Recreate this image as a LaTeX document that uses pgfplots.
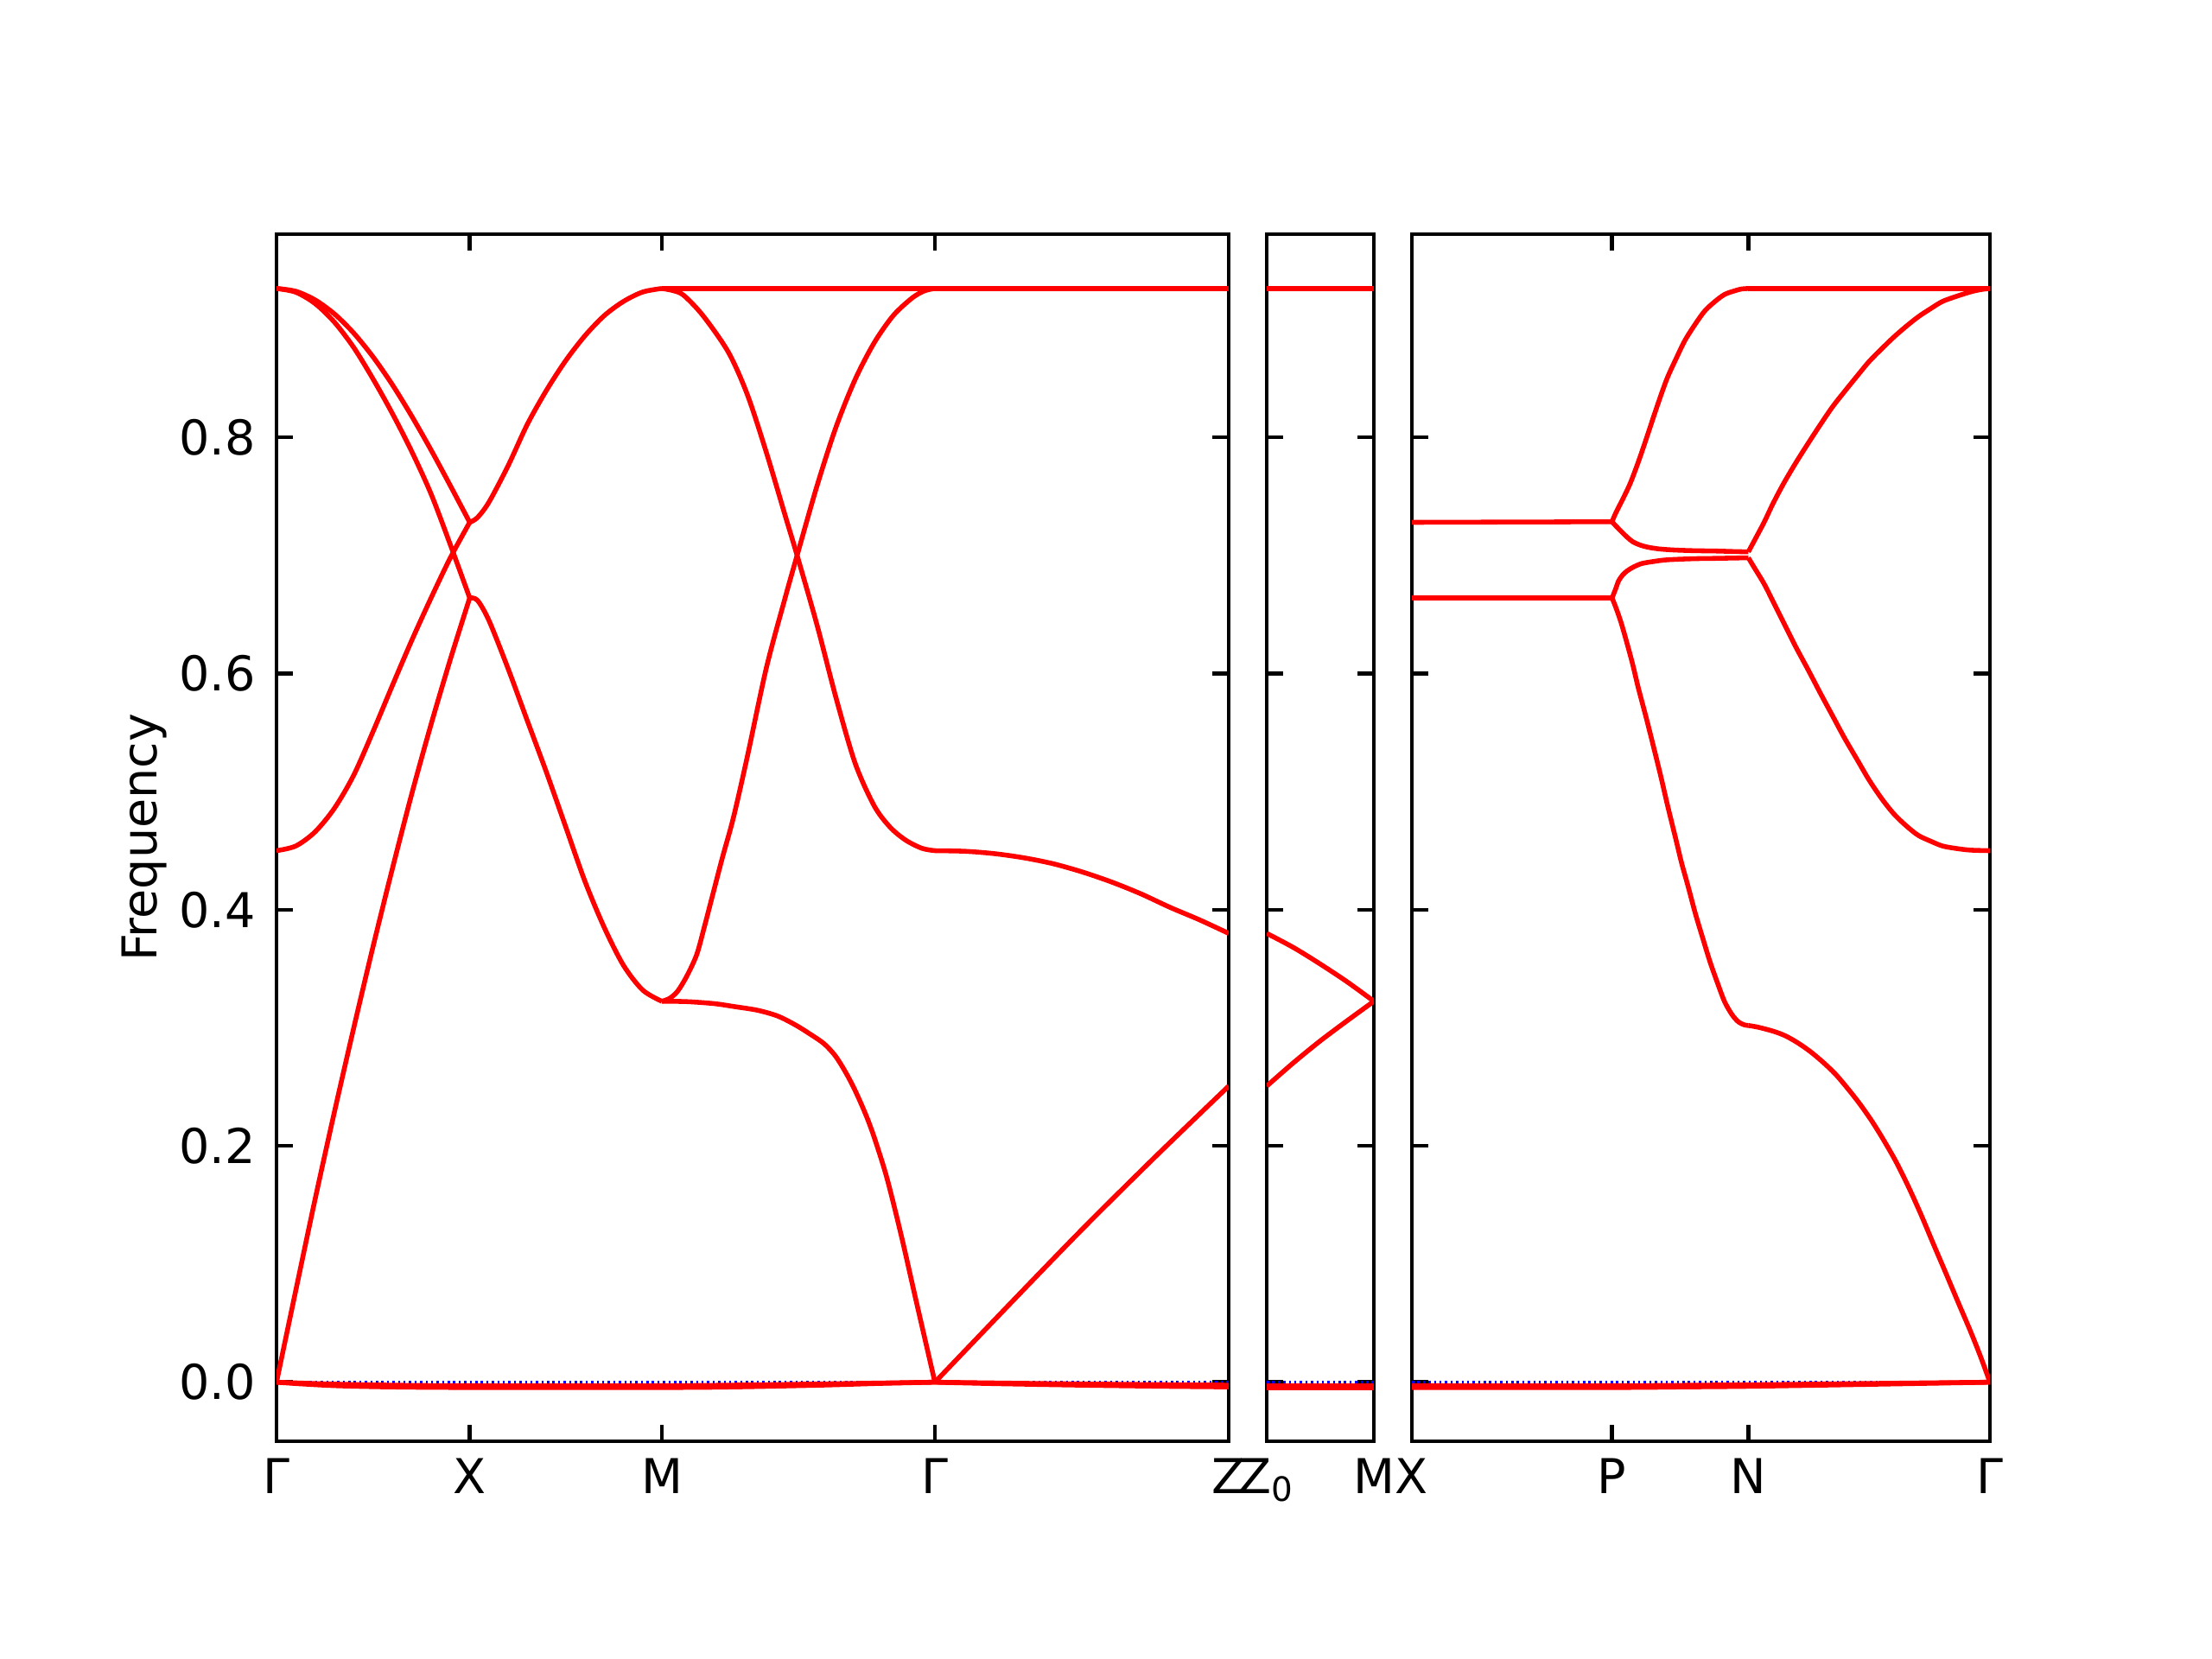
\documentclass[border=0pt]{standalone}
\usepackage{fontspec}
\setmainfont{DejaVu Sans}
\usepackage{pgfplots}
\pgfplotsset{compat=1.18}
\pgfplotsset{
  bandaxis/.style={
    scale only axis, anchor=south west, height=251.46pt,
    ymin=-0.05, ymax=0.972,
    ytick={0,0.2,0.4,0.6,0.8},
    tick align=inside, tick pos=both,
    major tick length=3.5pt,
    every tick/.style={black, line width=0.8pt},
    axis line style={black, line width=0.8pt},
    /pgf/number format/assume math mode=true,
    y tick label style={/pgf/number format/fixed, /pgf/number format/fixed zerofill, /pgf/number format/precision=1, xshift=-0.8pt},
    every axis plot/.append style={mark=none},
    band/.style={red, line width=1pt, line join=round, smooth, tension=0.5},
    flat/.style={red, line width=1pt},
    zero/.style={blue, line width=0.45pt, dash pattern=on 0.45pt off 0.7pt},
  }
}
\begin{document}
\begin{tikzpicture}
\useasboundingbox (0,0) rectangle (460.8pt,345.6pt);
% ---------------- left panel: Gamma-X-M-Gamma-Z
\begin{axis}[bandaxis, at={(57.6pt,45.36pt)}, width=198.36pt,
  xmin=320, xmax=1422,
  xtick={320,543.6,766,1082,1422}, xticklabels={Γ,X,M,Γ,Z},
  ylabel={Frequency},
  ylabel style={at={(axis description cs:-0.1391,0.5)}, anchor=center}]
\addplot[zero] coordinates {(320,0) (1422,0)};
% near-zero bands
\addplot[band] coordinates {(320,0) (350,-0.0015) (390,-0.003) (450,-0.004) (543.6,-0.0045) (766,-0.0045) (850,-0.004) (950,-0.0025) (1020,-0.001) (1082,0)};
\addplot[band] coordinates {(1082,0) (1150,-0.0012) (1250,-0.0025) (1350,-0.0035) (1422,-0.004)};
\addplot[band] coordinates {(320,0) (380,-0.0015) (450,-0.0025) (543.6,-0.003) (766,-0.003) (900,-0.002) (1082,0)};
\addplot[band] coordinates {(1082,0) (1250,-0.0015) (1422,-0.0025)};
% Gamma - X
\addplot[band] coordinates {(320,0.926) (342.4,0.9236) (364.7,0.9163) (387.1,0.9044) (409.4,0.8882) (431.8,0.8680) (454.2,0.8444) (476.5,0.8179) (498.9,0.7892) (521.2,0.7590) (543.6,0.728)};
\addplot[band] coordinates {(320,0.926) (342.4,0.9228) (364.7,0.9132) (387.1,0.8974) (409.4,0.8760) (431.8,0.8493) (454.2,0.820) (476.5,0.788) (498.9,0.752) (521.2,0.709) (543.6,0.664)};
\addplot[band] coordinates {(320,0.450) (342.4,0.454) (364.7,0.466) (387.1,0.486) (409.4,0.514) (431.8,0.551) (454.2,0.590) (476.5,0.628) (498.9,0.664) (521.2,0.698) (543.6,0.728)};
\addplot[band] coordinates {(320,0) (342.4,0.078) (364.7,0.155) (387.1,0.229) (409.4,0.300) (431.8,0.369) (454.2,0.435) (476.5,0.498) (498.9,0.557) (521.2,0.612) (543.6,0.664)};
% X - M
\addplot[band] coordinates {(543.6,0.728) (552.5,0.732) (565.8,0.745) (588.1,0.776) (610.3,0.811) (632.6,0.840) (654.8,0.865) (677.0,0.886) (699.3,0.903) (721.5,0.915) (743.8,0.923) (766,0.926)};
\addplot[band] coordinates {(543.6,0.664) (552.5,0.662) (565.8,0.645) (588.1,0.604) (610.3,0.560) (632.6,0.516) (654.8,0.470) (677.0,0.424) (699.3,0.385) (721.5,0.353) (743.8,0.332) (766,0.3225)};
% M - Gamma
\addplot[band] coordinates {(766,0.926) (780,0.924) (791.6,0.920) (813.6,0.903) (843,0.872) (865,0.836) (887,0.787) (909,0.733) (922.5,0.700) (945.6,0.641) (967.7,0.579) (989.7,0.524) (1011.7,0.488) (1030,0.470) (1048,0.459) (1067,0.452) (1082,0.450)};
\addplot[band] coordinates {(766,0.3225) (775,0.325) (784.2,0.331) (795,0.344) (806.3,0.362) (815,0.385) (824.6,0.412) (836,0.444) (848.8,0.478) (865,0.530) (887,0.605) (909,0.665) (922.5,0.700) (945.6,0.759) (967.7,0.809) (989.7,0.849) (1011.7,0.880) (1033.7,0.903) (1055.7,0.918) (1070,0.924) (1082,0.926)};
\addplot[band] coordinates {(766,0.3225) (795,0.3222) (826.7,0.3205) (850,0.318) (876.7,0.3149) (900,0.310) (920,0.3027) (937,0.295) (953.3,0.2868) (966,0.277) (976.7,0.2649) (987,0.251) (996.7,0.2356) (1005,0.221) (1013.3,0.2039) (1026.7,0.1722) (1043.3,0.1234) (1060,0.0697) (1082,0)};
% flat top M - Gamma - Z
\addplot[flat] coordinates {(766,0.926) (1422,0.926)};
% Gamma - Z
\addplot[band] coordinates {(1082,0.450) (1116.9,0.4495) (1150.8,0.4475) (1184.7,0.444) (1218.6,0.439) (1252.5,0.432) (1286.4,0.4235) (1320.3,0.4135) (1354.2,0.402) (1388.1,0.3915) (1422,0.380)};
\addplot[band] coordinates {(1082,0) (1167.75,0.0655) (1252.5,0.1295) (1337.25,0.191) (1422,0.2507)};
\end{axis}
% ---------------- middle panel: Z0-M
\begin{axis}[bandaxis, at={(263.88pt,45.36pt)}, width=22.32pt,
  xmin=1466, xmax=1590,
  xtick={1466,1590}, xticklabels={Z\textsubscript{0},M},
  yticklabel=\empty]
\addplot[zero] coordinates {(1466,0) (1590,0)};
\addplot[flat] coordinates {(1466,-0.0045) (1590,-0.0045)};
\addplot[flat] coordinates {(1466,-0.003) (1590,-0.003)};
\addplot[flat] coordinates {(1466,0.926) (1590,0.926)};
\addplot[band] coordinates {(1466,0.380) (1497,0.368) (1528,0.354) (1559,0.339) (1590,0.3225)};
\addplot[band] coordinates {(1466,0.2507) (1497,0.2705) (1528,0.289) (1559,0.306) (1590,0.3225)};
\end{axis}
% ---------------- right panel: X-P-N-Gamma
\begin{axis}[bandaxis, at={(294.12pt,45.36pt)}, width=120.42pt,
  xmin=1634, xmax=2303,
  xtick={1634,1865.6,2023.4,2303}, xticklabels={X,P,N,Γ},
  yticklabel=\empty]
\addplot[zero] coordinates {(1634,0) (2303,0)};
\addplot[band] coordinates {(1634,-0.0045) (1865.6,-0.0045) (1950,-0.004) (2023.4,-0.0035) (2150,-0.002) (2303,0)};
\addplot[band] coordinates {(1634,-0.003) (1865.6,-0.003) (2023.4,-0.0022) (2150,-0.0012) (2303,0)};
\addplot[flat] coordinates {(1634,0.728) (1865.6,0.7285)};
\addplot[flat] coordinates {(1634,0.664) (1865.6,0.664)};
\addplot[band] coordinates {(1865.6,0.7285) (1870,0.736) (1878.3,0.748) (1886.7,0.761) (1896,0.779) (1905.4,0.799) (1914,0.818) (1922.4,0.836) (1930,0.851) (1939.4,0.866) (1950,0.882) (1962.1,0.896) (1973,0.907) (1984.8,0.915) (1996,0.921) (2007.5,0.924) (2015,0.9255) (2023.4,0.926)};
\addplot[flat] coordinates {(2023.4,0.926) (2303,0.926)};
\addplot[band] coordinates {(1865.6,0.7285) (1870,0.725) (1876.7,0.720) (1883,0.7155) (1890,0.7114) (1898,0.7088) (1906.7,0.707) (1920,0.7055) (1936.7,0.7046) (1960,0.704) (1986.7,0.7037) (2005,0.7033) (2023.4,0.703)};
\addplot[band] coordinates {(1865.6,0.6638) (1870,0.672) (1873.3,0.6785) (1878,0.6835) (1883.3,0.687) (1890,0.690) (1900,0.6931) (1915,0.695) (1930,0.6963) (1960,0.6972) (1986.7,0.6975) (2023.4,0.698)};
\addplot[band] coordinates {(1865.6,0.664) (1870,0.656) (1877,0.641) (1888.4,0.611) (1896,0.588) (1905.4,0.562) (1914,0.537) (1922.4,0.512) (1930,0.488) (1939.4,0.460) (1946,0.440) (1953.6,0.420) (1962,0.397) (1970.6,0.376) (1979,0.356) (1987.7,0.338) (1996,0.322) (2004.7,0.311) (2012,0.305) (2018.9,0.3025) (2023.4,0.302)};
\addplot[band] coordinates {(2023.4,0.703) (2030,0.712) (2041.6,0.728) (2052,0.744) (2064.3,0.761) (2078,0.778) (2092.7,0.795) (2107,0.811) (2121,0.826) (2135,0.839) (2149.4,0.852) (2163,0.864) (2177.8,0.875) (2192,0.885) (2206.2,0.894) (2220,0.902) (2234.5,0.909) (2248,0.915) (2262.9,0.919) (2280,0.923) (2292,0.925) (2303,0.926)};
\addplot[band] coordinates {(2023.4,0.698) (2030,0.690) (2041.6,0.676) (2052,0.661) (2064.3,0.643) (2078,0.623) (2092.7,0.603) (2107,0.583) (2121,0.564) (2135,0.545) (2149.4,0.527) (2163,0.510) (2177.8,0.494) (2192,0.481) (2206.2,0.471) (2220,0.463) (2234.5,0.458) (2248,0.454) (2262.9,0.452) (2280,0.4505) (2303,0.450)};
\addplot[band] coordinates {(2023.4,0.302) (2035,0.3005) (2052.9,0.297) (2067,0.293) (2081.3,0.287) (2095,0.280) (2109.7,0.271) (2124,0.261) (2138,0.249) (2152,0.236) (2166.4,0.221) (2180,0.205) (2194.8,0.186) (2209,0.165) (2223.2,0.142) (2237,0.118) (2251.6,0.093) (2266,0.068) (2280,0.044) (2292,0.022) (2303,0)};
\end{axis}
\end{tikzpicture}
\end{document}
